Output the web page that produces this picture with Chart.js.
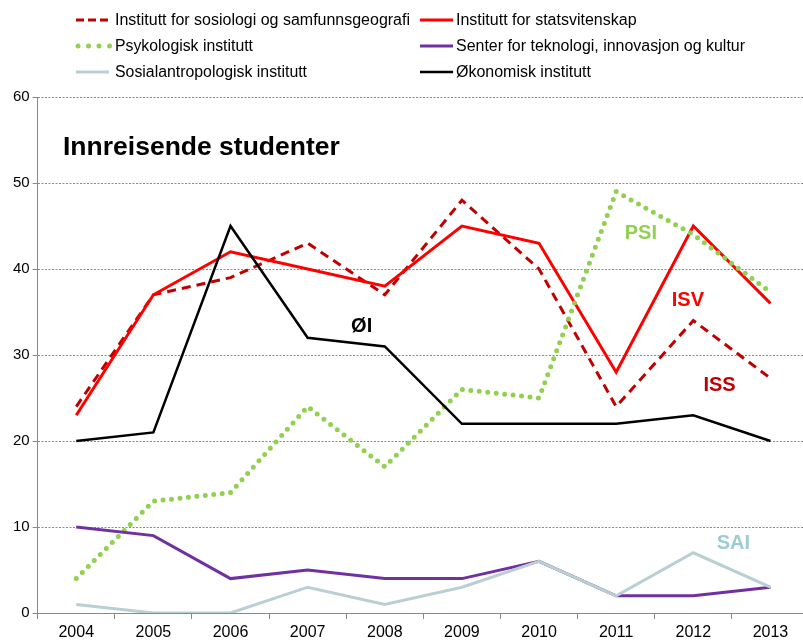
<!DOCTYPE html>
<html>
<head>
<meta charset="utf-8">
<script src="https://cdn.jsdelivr.net/npm/chart.js@4/dist/chart.umd.min.js"></script>
<style>
  html, body { margin: 0; padding: 0; background: #fff; overflow: hidden; }
  #wrap { width: 803px; height: 642px; overflow: hidden; }
</style>
</head>
<body>
<div id="wrap"><canvas id="myChart" width="809" height="642"></canvas></div>
<script>
const years = ['2004', '2005', '2006', '2007', '2008', '2009', '2010', '2011', '2012', '2013'];

const iss = [24, 37, 39, 43, 37, 48, 40, 24, 34, 27.3];
const isv = [23, 37, 42, 40, 38, 45, 43, 28, 45, 36];
const psi = [4, 13, 14, 24, 17, 26, 25, 49, 44, 37.3];
const tik = [10, 9, 4, 5, 4, 4, 6, 2, 2, 3];
const sai = [1, 0, 0, 3, 1, 3, 6, 2, 7, 3];
const oi = [20, 21, 45, 32, 31, 22, 22, 22, 23, 20];

const yTicks = [0, 10, 20, 30, 40, 50, 60];

const FONT = 'Liberation Sans, Arial, sans-serif';

// short names written on the plot, next to their lines
const tags = [
    { text: 'PSI', color: '#92D050', x: 7.32, y: 44.1 },
    { text: 'ISV', color: '#FF0000', x: 7.93, y: 36.3 },
    { text: 'ISS', color: '#C00000', x: 8.34, y: 26.5 },
    { text: 'ØI', color: '#000000', x: 3.70, y: 33.3 },
    { text: 'SAI', color: '#9CCBD6', x: 8.52, y: 8.1 }
];

const series = [
    { label: 'Institutt for sosiologi og samfunnsgeografi', data: iss, color: '#C00000', dash: [9, 6], cap: 'butt', width: 3, tw: 295 },
    { label: 'Institutt for statsvitenskap', data: isv, color: '#FF0000', dash: [], cap: 'butt', width: 3, tw: 181 },
    { label: 'Psykologisk institutt', data: psi, color: '#92D050', dash: [0, 8.5], cap: 'round', width: 5, tw: 138 },
    { label: 'Senter for teknologi, innovasjon og kultur', data: tik, color: '#7030A0', dash: [], cap: 'butt', width: 3, tw: 289 },
    { label: 'Sosialantropologisk institutt', data: sai, color: '#BACFD3', dash: [], cap: 'butt', width: 3, tw: 192 },
    { label: 'Økonomisk institutt', data: oi, color: '#000000', dash: [], cap: 'butt', width: 2.5, tw: 135 }
];

const legendPlugin = {
    id: 'sideLegend',
    afterDraw(chart) {
        const ctx = chart.ctx;
        ctx.save();
        ctx.font = '16px ' + FONT;
        ctx.textBaseline = 'middle';
        series.forEach(function(s, i) {
            const col = i % 2;
            const row = Math.floor(i / 2);
            const x0 = col === 0 ? 76 : 420;
            const y = 20 + row * 26;
            ctx.beginPath();
            ctx.strokeStyle = s.color;
            ctx.lineWidth = s.width;
            ctx.lineCap = s.cap;
            if (s.cap === 'round') {
                ctx.setLineDash([0, 10.5]);
                ctx.moveTo(x0 + 2, y);
                ctx.lineTo(x0 + 34, y);
            } else {
                ctx.setLineDash(s.dash.length ? [8, 4] : []);
                ctx.moveTo(x0, y);
                ctx.lineTo(x0 + 33, y);
            }
            ctx.stroke();
            ctx.setLineDash([]);
            ctx.fillStyle = '#000';
            ctx.textAlign = 'left';
            ctx.fillText(s.label, col === 0 ? 115 : 456, y + 1, s.tw);
        });

        // chart title inside the plot
        ctx.font = 'bold 26.5px ' + FONT;
        ctx.fillText('Innreisende studenter', 63, 148);

        const xs = chart.scales.x;
        const ys = chart.scales.y;
        ctx.font = 'bold 20px ' + FONT;
        ctx.textAlign = 'center';
        tags.forEach(function(t) {
            ctx.fillStyle = t.color;
            ctx.fillText(t.text, xs.getPixelForValue(t.x), ys.getPixelForValue(t.y));
        });
        ctx.restore();
    }
};

const config = {
    type: 'line',
    data: {
        labels: years,
        datasets: series.map(function(s) {
            return {
                label: s.label,
                data: s.data,
                borderColor: s.color,
                backgroundColor: s.color,
                borderWidth: s.width,
                borderDash: s.dash,
                borderCapStyle: s.cap,
                pointRadius: 0,
                tension: 0,
                fill: false
            };
        }).reverse()
    },
    options: {
        responsive: false,
        animation: false,
        layout: { padding: { top: 97, right: 0, left: 10, bottom: 0 } },
        plugins: {
            legend: { display: false },
            tooltip: { enabled: false }
        },
        scales: {
            x: {
                offset: true,
                afterFit(axis) { axis.height = 29; },
                grid: {
                    offset: true,
                    drawOnChartArea: false,
                    drawTicks: true,
                    tickLength: 6,
                    color: '#888'
                },
                border: { color: '#888', width: 1 },
                ticks: { color: '#000', font: { size: 16, family: FONT }, padding: 4, maxRotation: 0 }
            },
            y: {
                min: 0,
                max: 60,
                afterBuildTicks(axis) {
                    axis.ticks = yTicks.map(v => ({ value: v }));
                },
                grid: {
                    color: '#8a8a8a',
                    tickLength: 5,
                    tickColor: '#888',
                    tickBorderDash: []
                },
                border: { color: '#888', width: 1, dash: [2, 1.5] },
                ticks: { color: '#000', font: { size: 15, family: FONT }, padding: 3 }
            }
        }
    },
    plugins: [legendPlugin]
};

const myChart = new Chart(document.getElementById('myChart'), config);
</script>
</body>
</html>
